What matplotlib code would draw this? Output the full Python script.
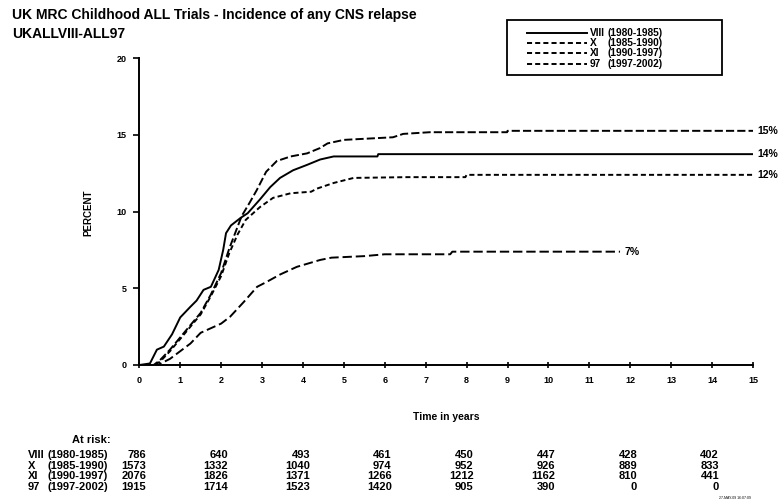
import matplotlib
matplotlib.use("Agg")
import matplotlib.pyplot as plt
from matplotlib.lines import Line2D
from matplotlib.patches import Rectangle
from matplotlib.transforms import blended_transform_factory

plt.rcParams['font.family'] = ['Liberation Sans', 'DejaVu Sans']
plt.rcParams['font.weight'] = 'bold'

# cumulative incidence curves (years, percent)
viii_t = [0, 0.26, 0.43, 0.6, 0.8, 1.0, 1.25, 1.4, 1.57, 1.75, 1.94, 2.05, 2.12, 2.24, 2.48, 2.65, 2.95, 3.2, 3.44,
          3.76, 4.1, 4.42, 4.75, 5.82, 5.84, 15]
viii_p = [0, 0.1, 1.0, 1.2, 2.0, 3.1, 3.8, 4.2, 4.9, 5.1, 6.2, 7.5, 8.6, 9.1, 9.6, 9.9, 10.8, 11.6, 12.2,
          12.7, 13.05, 13.4, 13.6, 13.6, 13.75, 13.75]

x_t = [0, 0.35, 0.5, 0.75, 1.0, 1.25, 1.5, 1.75, 2.0, 2.2, 2.4, 2.5, 2.7, 2.87, 3.1, 3.36, 3.7, 4.1, 4.42,
       4.6, 5.0, 6.2, 6.45, 7.1, 8.99, 9.0, 15]
x_p = [0, 0, 0.3, 1.0, 1.8, 2.6, 3.4, 4.6, 6.0, 7.6, 9.0, 9.7, 10.6, 11.4, 12.6, 13.3, 13.6, 13.8, 14.15,
       14.45, 14.68, 14.85, 15.07, 15.18, 15.18, 15.27, 15.27]

xi_t = [0, 0.35, 0.5, 0.75, 1.0, 1.25, 1.5, 1.75, 2.0, 2.2, 2.4, 2.6, 2.95, 3.27, 3.7, 4.2, 4.34, 4.75, 5.24,
        6.54, 7.97, 8.0, 15]
xi_p = [0, 0, 0.2, 0.9, 1.7, 2.5, 3.3, 4.5, 5.8, 7.3, 8.5, 9.46, 10.3, 10.9, 11.2, 11.3, 11.5, 11.87, 12.2,
        12.25, 12.25, 12.4, 12.4]

n97_t = [0, 0.45, 0.75, 1.0, 1.25, 1.5, 1.75, 2.0, 2.22, 2.55, 2.88, 3.1, 3.44, 3.85, 4.42, 4.7, 5.5, 6.0,
         7.6, 7.65, 11.75]
n97_p = [0, 0, 0.4, 0.9, 1.4, 2.1, 2.4, 2.7, 3.15, 4.1, 5.1, 5.4, 5.9, 6.4, 6.85, 7.0, 7.1, 7.22,
         7.22, 7.39, 7.39]

end_labels = ["14%", "15%", "12%", "7%"]

trial_names = ["VIII", "X", "XI", "97"]
trial_years = ["(1980-1985)", "(1985-1990)", "(1990-1997)", "(1997-2002)"]

risk_years = [0, 2, 4, 6, 8, 10, 12, 14]
at_risk = [
    [786, 640, 493, 461, 450, 447, 428, 402],
    [1573, 1332, 1040, 974, 952, 926, 889, 833],
    [2076, 1826, 1371, 1266, 1212, 1162, 810, 441],
    [1915, 1714, 1523, 1420, 905, 390, 0, 0],
]

W, H = 782, 504
fig = plt.figure(figsize=(W / 100, H / 100), dpi=100)
ax = fig.add_axes([139.3 / W, 1 - 365 / H, (753 - 139.3) / W, (365 - 58.3) / H])

lw = 1.4
styles = [
    dict(linestyle='-'),
    dict(linestyle=(0, (4.2, 1.6))),
    dict(linestyle=(0, (2.6, 1.6))),
    dict(linestyle=(0, (4.8, 2.0))),
]
series = [(viii_t, viii_p), (x_t, x_p), (xi_t, xi_p), (n97_t, n97_p)]
lines = []
for (t, p), st, lab in zip(series, styles, end_labels):
    ln, = ax.plot(t, p, color='black', lw=lw, **st)
    lines.append(ln)
    ax.annotate(lab, (t[-1], p[-1]), xytext=(3, 0), textcoords='offset points',
                va='center', ha='left', fontsize=7.5, fontweight='bold')

ax.set_xlim(0, 15)
ax.set_ylim(0, 20)
ax.set_xticks(range(0, 16))
ax.set_yticks([0, 5, 10, 15, 20])
for s in ['top', 'right']:
    ax.spines[s].set_visible(False)
for s in ['left', 'bottom']:
    ax.spines[s].set_linewidth(1.4)
ax.tick_params(axis='x', direction='inout', length=4, width=1.2, labelsize=6.5, pad=6)
ax.tick_params(axis='y', direction='out', length=4, width=1.2, labelsize=6.5, pad=5)
for lbl in ax.get_xticklabels() + ax.get_yticklabels():
    lbl.set_fontweight('bold')

fig.text(88 / W, 1 - 213 / H, "PERCENT", rotation=90, ha='center', va='center', fontsize=7)
fig.text(446 / W, 1 - 417 / H, "Time in years", ha='center', va='center', fontsize=7.5)

fig.text(12 / W, 1 - 15 / H, "UK MRC Childhood ALL Trials - Incidence of any CNS relapse",
         ha='left', va='center', fontsize=10)
fig.text(12 / W, 1 - 34 / H, "UKALLVIII-ALL97", ha='left', va='center', fontsize=10)

# legend box
fig.patches.append(Rectangle((507 / W, 1 - 75 / H), 215 / W, 55 / H, transform=fig.transFigure,
                             fill=False, edgecolor='black', lw=1.3))
for i, ln in enumerate(lines):
    yy = 1 - (33 + 10.2 * i) / H
    fig.lines.append(Line2D([527 / W, 587 / W], [yy, yy], transform=fig.transFigure, color='black',
                            lw=lw, linestyle=ln.get_linestyle() if i == 0 else (0, (2.6, 1.6))))
    fig.text(590 / W, yy, trial_names[i], ha='left', va='center', fontsize=7.3)
    fig.text(608 / W, yy, trial_years[i], ha='left', va='center', fontsize=7.3)

# at-risk table
narrow = ['Liberation Sans Narrow', 'Liberation Sans', 'DejaVu Sans']
fig.text(72 / W, 1 - 440 / H, "At risk:", ha='left', va='center', fontsize=8, family=narrow)
tr = blended_transform_factory(ax.transData, fig.transFigure)
for r in range(4):
    yy = 1 - (455 + 10.7 * r) / H
    fig.text(28 / W, yy, trial_names[r], ha='left', va='center', fontsize=8, family=narrow)
    fig.text(47 / W, yy, trial_years[r], ha='left', va='center', fontsize=8, family=narrow)
    for yr, n in zip(risk_years, at_risk[r]):
        ax.text(yr + 0.17, yy, str(n), transform=tr, ha='right', va='center', fontsize=8,
                family=narrow, clip_on=False)

fig.text(735 / W, 1 - 498 / H, "27-MAY-09 16:07:09", ha='center', va='center', fontsize=2.5,
         fontweight='normal')

fig.savefig("out.png", dpi=100)
